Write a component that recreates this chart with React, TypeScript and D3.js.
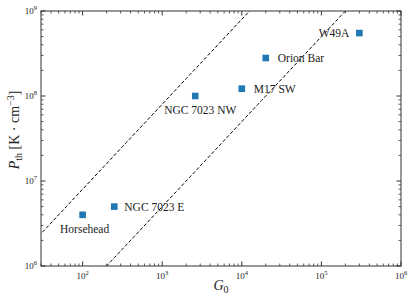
import React from "react";
import * as d3 from "d3";

const names = ["Horsehead", "NGC 7023 E", "NGC 7023 NW", "M17 SW", "Orion Bar", "W49A"];
const g0Values = [100, 250, 2600, 10000, 20000, 300000];
const pthValues = [4.0e6, 5.0e6, 1.0e8, 1.22e8, 2.8e8, 5.5e8];
// label offsets (dx, dy) and anchors per source
const labelAnchor = ["middle", "start", "middle", "start", "start", "end"];
const labelDx = [2, 10, 5, 12, 12, -10];
const labelDy = [18, 4, 18, 4, 4, 4];
const lineRatios = [8e4, 5e3];
const xTickExps = [2, 3, 4, 5, 6];
const yTickExps = [6, 7, 8, 9];

const W = 415, H = 300;
const M = { left: 41, right: 14, top: 11, bottom: 34 };

export default function App() {
  const x = d3.scaleLog().domain([30, 1e6]).range([M.left, W - M.right]);
  const y = d3.scaleLog().domain([1e6, 1e9]).range([H - M.bottom, M.top]);
  const [x0, x1] = x.range();
  const [y0, y1] = y.range();
  const font = "Liberation Serif";
  const axisColor = "#333";
  const textStyle = { fontFamily: font } as React.CSSProperties;

  const xMinor: number[] = [];
  for (let e = 1; e <= 5; e++) for (let k = 2; k <= 9; k++) { const v = k * 10 ** e; if (v >= 30 && v <= 1e6) xMinor.push(v); }
  const yMinor: number[] = [];
  for (let e = 6; e <= 8; e++) for (let k = 2; k <= 9; k++) yMinor.push(k * 10 ** e);

  const lineGen = d3.line<[number, number]>().x(d => x(d[0])).y(d => y(d[1]));
  const gs = d3.range(1.4, 6.05, 0.05).map(v => 10 ** v);

  return (
    <svg width={W} height={H} style={{ position: "absolute", left: 0, top: 0, background: "#fff" }}>
      <defs>
        <clipPath id="clip"><rect x={x0} y={y1} width={x1 - x0} height={y0 - y1} /></clipPath>
      </defs>
      <g clipPath="url(#clip)">
        {lineRatios.map((r, i) => (
          <path key={i} d={lineGen(gs.map(g => [g, g * r] as [number, number])) || ""} fill="none" stroke="#000" strokeWidth={1} strokeDasharray="3.5,2" />
        ))}
      </g>
      {g0Values.map((g, i) => (
        <rect key={i} x={x(g) - 3.3} y={y(pthValues[i]) - 3.3} width={6.6} height={6.6} fill="#1f77b4" />
      ))}
      {names.map((n, i) => (
        <text key={n} x={x(g0Values[i]) + labelDx[i]} y={y(pthValues[i]) + labelDy[i]} textAnchor={labelAnchor[i] as any}
          style={textStyle} fontSize={11.5} fill="#222">{n}</text>
      ))}
      {/* axes frame */}
      <rect x={x0} y={y1} width={x1 - x0} height={y0 - y1} fill="none" stroke={axisColor} strokeWidth={1} />
      {/* x ticks */}
      {xTickExps.map(e => {
        const px = x(10 ** e);
        return (
          <g key={"xt" + e}>
            <line x1={px} x2={px} y1={y0} y2={y0 - 4.5} stroke={axisColor} />
            <line x1={px} x2={px} y1={y1} y2={y1 + 4.5} stroke={axisColor} />
            <text x={px} y={y0 + 13} textAnchor="middle" style={textStyle} fontSize={9} fill="#222">
              10<tspan dy={-4} fontSize={6.5}>{e}</tspan>
            </text>
          </g>
        );
      })}
      {xMinor.map((v, i) => {
        const px = x(v);
        return (
          <g key={"xm" + i}>
            <line x1={px} x2={px} y1={y0} y2={y0 - 2.5} stroke={axisColor} strokeWidth={0.8} />
            <line x1={px} x2={px} y1={y1} y2={y1 + 2.5} stroke={axisColor} strokeWidth={0.8} />
          </g>
        );
      })}
      {yTickExps.map(e => {
        const py = y(10 ** e);
        return (
          <g key={"yt" + e}>
            <line x1={x0} x2={x0 + 4.5} y1={py} y2={py} stroke={axisColor} />
            <line x1={x1} x2={x1 - 4.5} y1={py} y2={py} stroke={axisColor} />
            <text x={x0 - 4} y={py + 3} textAnchor="end" style={textStyle} fontSize={9} fill="#222">
              10<tspan dy={-4} fontSize={6.5}>{e}</tspan>
            </text>
          </g>
        );
      })}
      {yMinor.map((v, i) => {
        const py = y(v);
        return (
          <g key={"ym" + i}>
            <line x1={x0} x2={x0 + 2.5} y1={py} y2={py} stroke={axisColor} strokeWidth={0.8} />
            <line x1={x1} x2={x1 - 2.5} y1={py} y2={py} stroke={axisColor} strokeWidth={0.8} />
          </g>
        );
      })}
      {/* axis labels */}
      <text x={(x0 + x1) / 2} y={290} textAnchor="middle" style={textStyle} fontSize={14} fill="#222">
        <tspan fontStyle="italic">G</tspan><tspan dy={3} fontSize={10}>0</tspan>
      </text>
      <text transform={`translate(19, 130) rotate(-90)`} textAnchor="middle" style={textStyle} fontSize={14} fill="#222">
        <tspan fontStyle="italic">P</tspan><tspan dy={3} fontSize={10}>th</tspan><tspan dy={-3}> [K · cm</tspan><tspan dy={-5} fontSize={10}>−3</tspan><tspan dy={5}>]</tspan>
      </text>
    </svg>
  );
}
